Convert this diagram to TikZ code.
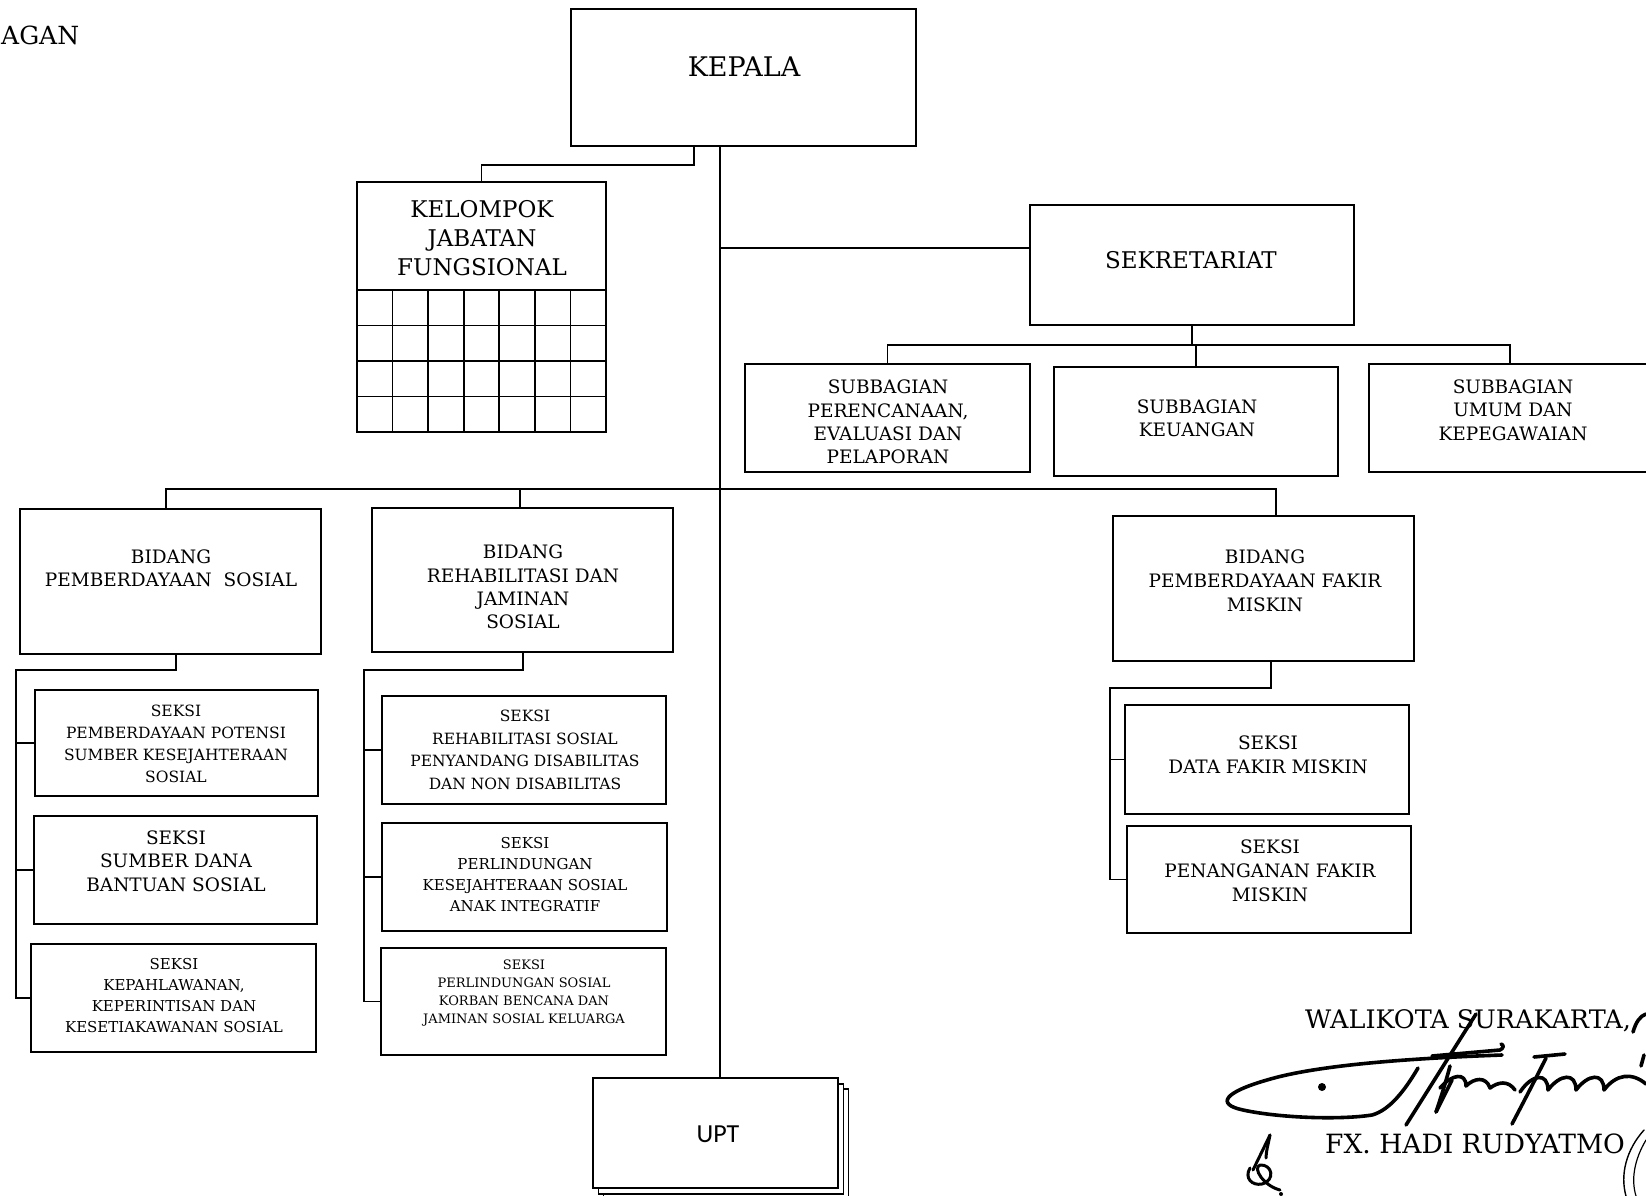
\documentclass[tikz,border=0pt]{standalone}
\usepackage{fontspec}
\usetikzlibrary{calc}
\setmainfont{DejaVu Serif}
\newfontfamily\uptfont{Carlito}
\newcommand\fsz[2]{\fontsize{#1}{#2}\selectfont}
\begin{document}
\begin{tikzpicture}[x=1pt,y=-1pt,
  box/.style={draw, line width=1.6pt, inner sep=0pt, outer sep=0pt, fill=white},
  lbl/.style={align=center, inner sep=0pt},
  wire/.style={line width=1.6pt},
  sig/.style={line width=3.6pt, line cap=round, line join=round}]
\useasboundingbox (0,0) rectangle (1646,1196);
\clip (0,0) rectangle (1646,1196);

% page heading
\node[lbl, anchor=west, font=\fsz{25}{30}] (judul) at (1,35) {AGAN};

% ---------- boxes ----------
\node[box, minimum width=345, minimum height=137] (kepala) at (743.5,77.5) {};
\node[box, minimum width=249, minimum height=108] (kjf) at (481.5,236) {};
\node[box, minimum width=249, minimum height=142] (kjfgrid) at (481.5,361) {};
\node[box, minimum width=324, minimum height=120] (sek) at (1192,265) {};
\node[box, minimum width=285, minimum height=108] (sub1) at (887.5,418) {};
\node[box, minimum width=284, minimum height=109] (sub2) at (1196,421.5) {};
\node[box, minimum width=282, minimum height=108] (sub3) at (1510,418) {};
\node[box, minimum width=301, minimum height=145] (bid1) at (170.5,581.5) {};
\node[box, minimum width=301, minimum height=144] (bid2) at (522.5,580) {};
\node[box, minimum width=301, minimum height=145] (bid3) at (1263.5,588.5) {};
\node[box, minimum width=283, minimum height=106] (s11) at (176.5,743) {};
\node[box, minimum width=283, minimum height=108] (s12) at (175.5,870) {};
\node[box, minimum width=285, minimum height=108] (s13) at (173.5,998) {};
\node[box, minimum width=284, minimum height=108] (s21) at (524,750) {};
\node[box, minimum width=285, minimum height=108] (s22) at (524.5,877) {};
\node[box, minimum width=285, minimum height=107] (s23) at (523.5,1001.5) {};
\node[box, minimum width=284, minimum height=109] (s31) at (1267,759.5) {};
\node[box, minimum width=284, minimum height=107] (s32) at (1269,879.5) {};
% stacked UPT sheets
\node[box, minimum width=245, minimum height=110] (upt3) at (726,1144) {};
\node[box, minimum width=245, minimum height=110] (upt2) at (721,1139) {};
\node[box, minimum width=245, minimum height=110] (upt) at (715.5,1133) {};

% grid of the functional group
\foreach \i in {1,...,6}
  \draw[wire] ($(kjfgrid.north west)+(\i*35.57,0)$) -- ($(kjfgrid.south west)+(\i*35.57,0)$);
\foreach \j in {1,2,3}
  \draw[wire] ($(kjfgrid.north west)+(0,\j*35.5)$) -- ($(kjfgrid.north east)+(0,\j*35.5)$);

% ---------- labels ----------
\node[lbl, font=\fsz{27}{32}] (t-kepala) at (744,67) {KEPALA};
\node[lbl, font=\fsz{23}{29}] (t-kjf) at (482,238) {KELOMPOK\\JABATAN\\FUNGSIONAL};
\node[lbl, font=\fsz{23}{28}] (t-sek) at (1191,260) {SEKRETARIAT};
\node[lbl, font=\fsz{18.5}{23.3}] (t-sub1) at (888,422) {SUBBAGIAN\\PERENCANAAN,\\EVALUASI DAN\\PELAPORAN};
\node[lbl, font=\fsz{18.5}{23.3}] (t-sub2) at (1197,418) {SUBBAGIAN\\KEUANGAN};
\node[lbl, font=\fsz{18.5}{23.3}] (t-sub3) at (1513,410) {SUBBAGIAN\\UMUM DAN\\KEPEGAWAIAN};
\node[lbl, font=\fsz{18.5}{23.3}] (t-bid1) at (171,568) {BIDANG\\PEMBERDAYAAN\ \ SOSIAL};
\node[lbl, font=\fsz{18.5}{23.3}] (t-bid2) at (523,587) {BIDANG\\REHABILITASI DAN\\JAMINAN\\SOSIAL};
\node[lbl, font=\fsz{18.5}{23.8}] (t-bid3) at (1265,581) {BIDANG\\PEMBERDAYAAN FAKIR\\MISKIN};
\node[lbl, font=\fsz{15.5}{21.8}] (t-s11) at (176,744) {SEKSI\\PEMBERDAYAAN POTENSI\\SUMBER KESEJAHTERAAN\\SOSIAL};
\node[lbl, font=\fsz{18.5}{23.5}] (t-s12) at (176,861) {SEKSI\\SUMBER DANA\\BANTUAN SOSIAL};
\node[lbl, font=\fsz{15}{21}] (t-s13) at (174,996) {SEKSI\\KEPAHLAWANAN,\\KEPERINTISAN DAN\\KESETIAKAWANAN SOSIAL};
\node[lbl, font=\fsz{15.5}{22.5}] (t-s21) at (525,750) {SEKSI\\REHABILITASI SOSIAL\\PENYANDANG DISABILITAS\\DAN NON DISABILITAS};
\node[lbl, font=\fsz{15}{21}] (t-s22) at (525,875) {SEKSI\\PERLINDUNGAN\\KESEJAHTERAAN SOSIAL\\ANAK INTEGRATIF};
\node[lbl, font=\fsz{13}{18}] (t-s23) at (524,993) {SEKSI\\PERLINDUNGAN SOSIAL\\KORBAN BENCANA DAN\\JAMINAN SOSIAL KELUARGA};
\node[lbl, font=\fsz{18.5}{24}] (t-s31) at (1268,755) {SEKSI\\DATA FAKIR MISKIN};
\node[lbl, font=\fsz{18.5}{24}] (t-s32) at (1270,871) {SEKSI\\PENANGANAN FAKIR\\MISKIN};
\node[lbl, font=\uptfont\fsz{26}{30}] (t-upt) at (718,1134) {UPT};

% ---------- connectors ----------
\coordinate (trunk) at (720,0);
\draw[wire] (kepala.south -| trunk) -- (upt.north -| trunk);

\coordinate (kj) at (694,165);
\draw[wire] (kepala.south -| kj) -- (kj) -- (kj -| kjf.north) -- (kjf.north);

\coordinate (sj) at (720,248);
\draw[wire] (sj) -- (sj -| sek.west);

\coordinate (subbus) at (0,345);
\draw[wire] (sek.south) -- (sek.south |- subbus);
\draw[wire] (sub1.north) -- (sub1.north |- subbus) -- (sub3.north |- subbus) -- (sub3.north);
\draw[wire] (sub2.north |- subbus) -- (sub2.north);

\coordinate (b1) at (166,489);
\coordinate (b2) at (520,489);
\coordinate (b3) at (1276,489);
\draw[wire] (b1 |- bid1.north) -- (b1) -- (b3) -- (b3 |- bid3.north);
\draw[wire] (b2) -- (b2 |- bid2.north);

\coordinate (e1) at (176,670);
\coordinate (r1) at (16,670);
\draw[wire] (e1 |- bid1.south) -- (e1) -- (r1) -- (r1 |- s13.west) -- (s13.west);
\draw[wire] (r1 |- s11.west) -- (s11.west);
\draw[wire] (r1 |- s12.west) -- (s12.west);

\coordinate (e2) at (523,670);
\coordinate (r2) at (364,670);
\draw[wire] (e2 |- bid2.south) -- (e2) -- (r2) -- (r2 |- s23.west) -- (s23.west);
\draw[wire] (r2 |- s21.west) -- (s21.west);
\draw[wire] (r2 |- s22.west) -- (s22.west);

\coordinate (e3) at (1271,688);
\coordinate (r3) at (1110,688);
\draw[wire] (e3 |- bid3.south) -- (e3) -- (r3) -- (r3 |- s32.west) -- (s32.west);
\draw[wire] (r3 |- s31.west) -- (s31.west);

% ---------- signature block ----------
\node[lbl, anchor=west, font=\fsz{25.5}{30}] (walikota) at (1305,1021) {WALIKOTA SURAKARTA,};
\node[lbl, anchor=west, font=\fsz{26.5}{30}] (nama) at (1325,1144) {FX. HADI RUDYATMO};

% long loop of the signature
\draw[sig] (1502,1055) .. controls (1420,1058) and (1320,1064) .. (1267,1080)
  .. controls (1225,1092) and (1215,1104) .. (1243,1110)
  .. controls (1280,1118) and (1340,1120) .. (1372,1115)
  .. controls (1390,1110) and (1405,1090) .. (1418,1068);
\fill (1322,1087) circle (4);
% down strokes
\draw[sig] (1476,1014) .. controls (1450,1055) and (1425,1095) .. (1406,1125);
\draw[sig] (1450,1066) .. controls (1445,1085) and (1440,1100) .. (1436,1112);
\draw[sig] (1436,1112) -- (1452,1080);
% cross bar
\draw[sig] (1432,1056) -- (1500,1050) .. controls (1504,1048) and (1504,1045) .. (1501,1044);
% middle scribble
\draw[sig] (1440,1088) .. controls (1452,1074) and (1466,1072) .. (1466,1086)
  .. controls (1474,1078) and (1486,1076) .. (1490,1088)
  .. controls (1498,1082) and (1508,1080) .. (1515,1090);
% second letter with its bar
\draw[sig] (1534,1057) -- (1565,1054);
\draw[sig] (1546,1058) .. controls (1535,1080) and (1522,1105) .. (1512,1124);
% waves at the end
\draw[sig] (1520,1092) .. controls (1532,1074) and (1548,1072) .. (1548,1090)
  .. controls (1560,1074) and (1576,1072) .. (1576,1090)
  .. controls (1588,1074) and (1604,1072) .. (1604,1090)
  .. controls (1616,1074) and (1632,1072) .. (1646,1084);
% hook after the comma
\draw[sig] (1633,1032) .. controls (1636,1022) and (1640,1016) .. (1646,1014);
\draw[sig] (1644,1055) -- (1641,1066);
% initials
\draw[sig, line width=3pt] (1270,1135) -- (1253,1170);
\draw[sig, line width=3pt] (1270,1135) .. controls (1268,1145) and (1266,1152) .. (1266,1158);
\draw[sig, line width=3pt] (1250,1168) .. controls (1244,1178) and (1252,1186) .. (1262,1184)
  .. controls (1276,1180) and (1272,1164) .. (1260,1165)
  .. controls (1252,1168) and (1264,1186) .. (1280,1190);
\fill (1281,1194) circle (2);
% thin strokes at the right margin
\draw[sig, line width=1.4pt] (1644,1130) .. controls (1626,1150) and (1620,1175) .. (1626,1196);
\draw[sig, line width=1.2pt] (1646,1140) .. controls (1634,1160) and (1631,1180) .. (1636,1196);
\end{tikzpicture}
\end{document}
